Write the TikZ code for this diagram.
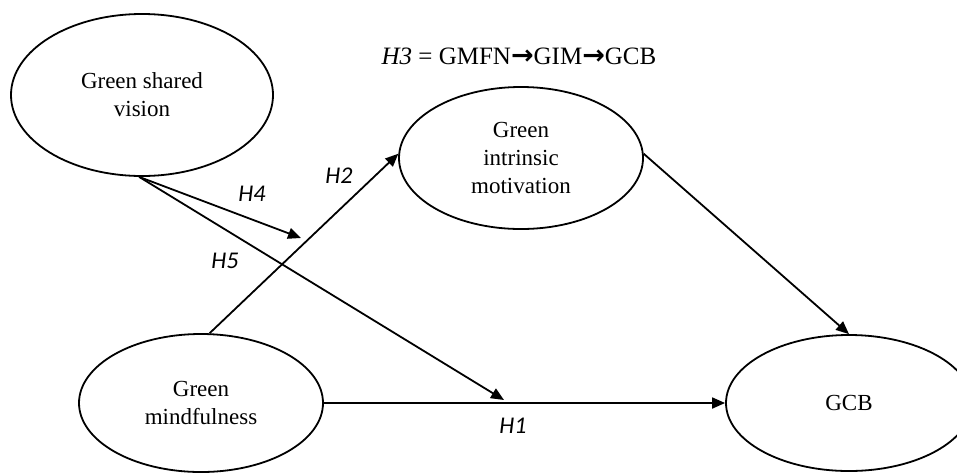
\documentclass[tikz,border=0pt]{standalone}
\usepackage{fontspec}
\setmainfont{Liberation Serif}
\newfontfamily\labfont{Carlito}
\newfontfamily\arrfont{DejaVu Sans}
\usetikzlibrary{shapes.geometric,arrows.meta}
\begin{document}
\begin{tikzpicture}[x=1pt,y=-1pt,
  construct/.style={draw,ellipse,line width=1.8pt,inner sep=0pt,align=center,
    font=\fontsize{23}{28}\selectfont},
  relpath/.style={line width=1.8pt,-{Triangle[length=13pt,width=11pt]}},
  hyp/.style={font=\labfont\itshape\fontsize{24}{26}\selectfont,inner sep=0pt}]
\useasboundingbox (0,0) rectangle (957,472);
\clip (0,0) rectangle (957,472);

\node[construct,minimum width=262pt,minimum height=162pt] (GSV) at (142,95) {Green shared\\vision};
\node[construct,minimum width=244pt,minimum height=142pt] (GIM) at (521,158) {Green\\intrinsic\\motivation};
\node[construct,minimum width=244pt,minimum height=138pt] (GM) at (201,403) {Green\\mindfulness};
\node[construct,minimum width=246pt,minimum height=136pt] (GCB) at (849,403) {GCB};

\node[anchor=base,font=\fontsize{25}{28}\selectfont,inner sep=0pt] (H3) at (519,64)
  {\textit{H3} = GMFN{\arrfont\bfseries\fontsize{27}{28}\selectfont →}GIM{\arrfont\bfseries\fontsize{27}{28}\selectfont →}GCB};

\coordinate (m4) at (301,238);
\coordinate (m5) at (504,400);

\draw[relpath] (GM.83) -- (GIM.178);
\draw[relpath] (GSV.268) -- (m4);
\draw[relpath] (GSV.268) -- (m5);
\draw[relpath] (GM.east) -- (GCB.west);
\draw[relpath] (GIM.2) -- (GCB.north);

\node[hyp] (L4) at (252,194) {H4};
\node[hyp] (L2) at (339,176) {H2};
\node[hyp] (L5) at (225,261) {H5};
\node[hyp] (L1) at (513,426) {H1};
\end{tikzpicture}
\end{document}
